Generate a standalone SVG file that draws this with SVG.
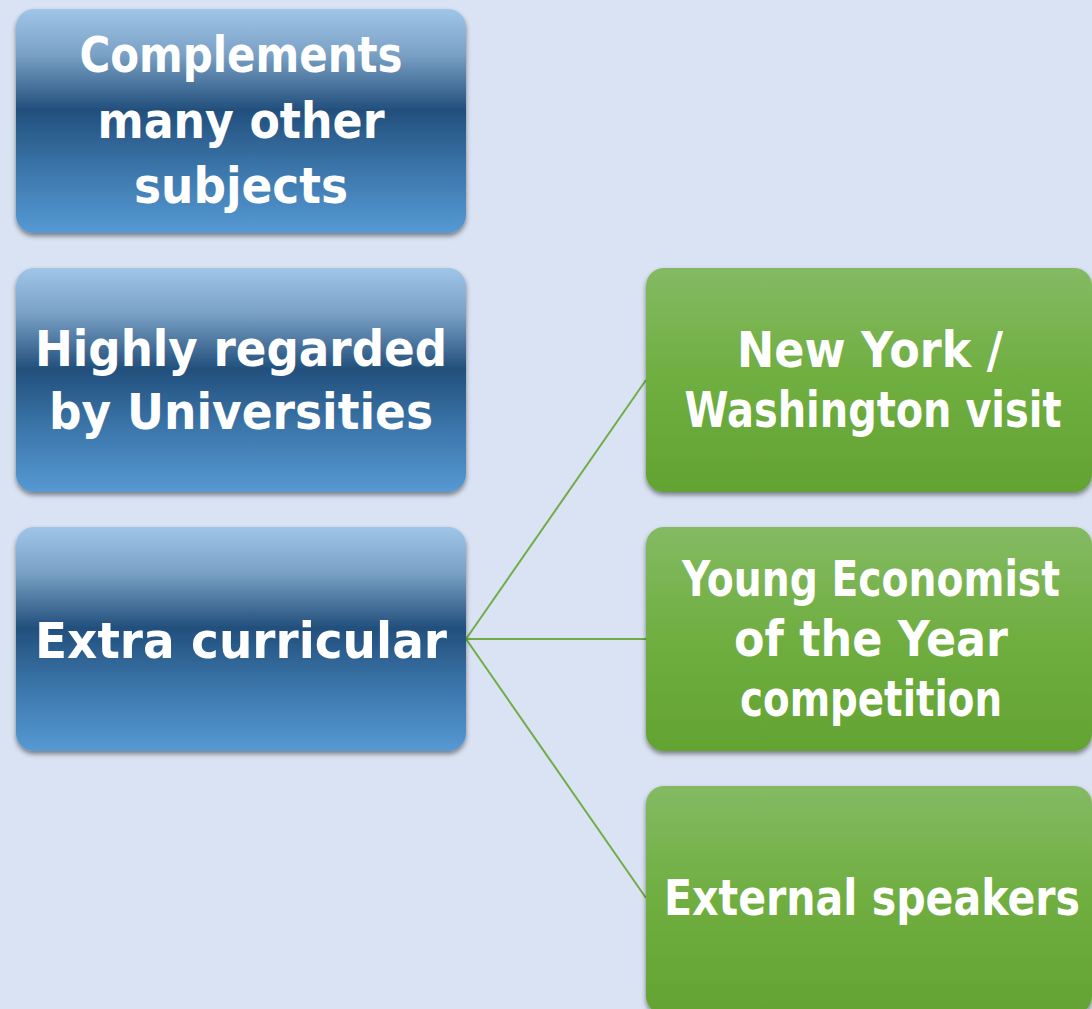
<svg xmlns="http://www.w3.org/2000/svg" width="1092" height="1009" viewBox="0 0 1092 1009">
<defs>
<linearGradient id="gBlue" x1="0" y1="0" x2="0" y2="1">
<stop offset="0" stop-color="#9fc5e8"/>
<stop offset="0.2" stop-color="#7ba2c6"/>
<stop offset="0.45" stop-color="#224f7c"/>
<stop offset="0.7" stop-color="#3a74a8"/>
<stop offset="1" stop-color="#5699d3"/>
</linearGradient>
<linearGradient id="gGreen" x1="0" y1="0" x2="0" y2="1">
<stop offset="0" stop-color="#84ba63"/>
<stop offset="0.5" stop-color="#6fae40"/>
<stop offset="1" stop-color="#63a332"/>
</linearGradient>
<filter id="sh" x="-10%" y="-10%" width="120%" height="125%">
<feDropShadow dx="0" dy="3" stdDeviation="2.5" flood-color="#000" flood-opacity="0.45"/>
</filter>
</defs>
<style>
.blue{fill:url(#gBlue);filter:url(#sh)}
.green{fill:url(#gGreen);filter:url(#sh)}
.t{font-family:"DejaVu Sans","Noto Sans",sans-serif;font-weight:bold;font-size:50px;fill:#ffffff;text-anchor:middle}
.c{stroke:#70ad47;stroke-width:2;fill:none}
</style>
<rect x="0" y="0" width="1092" height="1009" fill="#dae3f3"/>
<g id="connectors">
<line class="c" x1="466" y1="639" x2="646" y2="380"/>
<line class="c" x1="466" y1="639" x2="646" y2="639"/>
<line class="c" x1="466" y1="639" x2="646" y2="898"/>
</g>
<g id="node-complements">
<rect class="blue" x="16" y="9" width="450" height="224" rx="18"/>
<text class="t" x="241" y="72" textLength="323" lengthAdjust="spacingAndGlyphs">Complements</text>
<text class="t" x="241" y="138" textLength="287" lengthAdjust="spacingAndGlyphs">many other</text>
<text class="t" x="241" y="203" textLength="214" lengthAdjust="spacingAndGlyphs">subjects</text>
</g>
<g id="node-regarded">
<rect class="blue" x="16" y="268" width="450" height="224" rx="18"/>
<text class="t" x="241" y="366" textLength="412" lengthAdjust="spacingAndGlyphs">Highly regarded</text>
<text class="t" x="241" y="429" textLength="384" lengthAdjust="spacingAndGlyphs">by Universities</text>
</g>
<g id="node-extra">
<rect class="blue" x="16" y="527" width="450" height="224" rx="18"/>
<text class="t" x="241" y="658" textLength="412" lengthAdjust="spacingAndGlyphs">Extra curricular</text>
</g>
<g id="node-newyork">
<rect class="green" x="646" y="268" width="446" height="224" rx="18"/>
<text class="t" x="870" y="367" textLength="266" lengthAdjust="spacingAndGlyphs">New York /</text>
<text class="t" x="873" y="427" textLength="377" lengthAdjust="spacingAndGlyphs">Washington visit</text>
</g>
<g id="node-young">
<rect class="green" x="646" y="527" width="446" height="224" rx="18"/>
<text class="t" x="871" y="596" textLength="378" lengthAdjust="spacingAndGlyphs">Young Economist</text>
<text class="t" x="871" y="656" textLength="274" lengthAdjust="spacingAndGlyphs">of the Year</text>
<text class="t" x="871" y="716" textLength="262" lengthAdjust="spacingAndGlyphs">competition</text>
</g>
<g id="node-speakers">
<rect class="green" x="646" y="786" width="446" height="228" rx="18"/>
<text class="t" x="872" y="915" textLength="416" lengthAdjust="spacingAndGlyphs">External speakers</text>
</g>
</svg>
